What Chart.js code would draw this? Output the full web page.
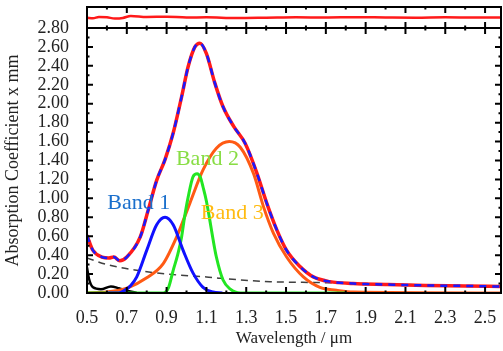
<!DOCTYPE html>
<html lang="en">

<head>
  <meta charset="UTF-8">
  <title>Absorption bands</title>
  <script src="https://cdn.jsdelivr.net/npm/chart.js"></script>
  <style>
    body { margin: 0; background: #fff; }
    .wrap { position: relative; width: 503px; height: 351px; }
    .wrap canvas { position: absolute; left: 0; top: 0; }
  </style>
</head>

<body>
  <div class="wrap">
    <canvas id="mainChart" width="503" height="351"></canvas>
    <canvas id="residChart" width="503" height="30"></canvas>
  </div>

  <script>
    // tick labels
    const xTickVals = [0.5, 0.7, 0.9, 1.1, 1.3, 1.5, 1.7, 1.9, 2.1, 2.3, 2.5];

    // total fit
    const totalX = [0.50, 0.51, 0.53, 0.575, 0.61, 0.635, 0.665, 0.70, 0.767, 0.808, 0.85, 0.892, 0.933, 0.975, 1.008, 1.042, 1.067, 1.10, 1.142, 1.183, 1.237, 1.295, 1.353, 1.403, 1.453, 1.503, 1.57, 1.637, 1.72, 1.837, 2.0, 2.2, 2.4, 2.58];
    const totalY = [0.61, 0.55, 0.45, 0.38, 0.37, 0.38, 0.34, 0.38, 0.59, 0.88, 1.19, 1.41, 1.69, 2.07, 2.39, 2.60, 2.64, 2.53, 2.22, 1.97, 1.76, 1.58, 1.27, 0.95, 0.67, 0.45, 0.28, 0.17, 0.12, 0.10, 0.09, 0.08, 0.075, 0.068];

    // Band 1
    const band1X = [0.60, 0.66, 0.683, 0.72, 0.75, 0.80, 0.85, 0.892, 0.933, 0.983, 1.033, 1.083, 1.133, 1.18];
    const band1Y = [0.0, 0.0, 0.02, 0.08, 0.17, 0.45, 0.72, 0.80, 0.72, 0.45, 0.21, 0.06, 0.01, 0.0];

    // Band 2
    const band2X = [0.50, 0.883, 0.91, 0.933, 0.955, 0.975, 0.99, 1.008, 1.033, 1.053, 1.07, 1.083, 1.10, 1.117, 1.133, 1.15, 1.183, 1.22, 1.27, 1.80];
    const band2Y = [0.0, 0.0, 0.06, 0.24, 0.40, 0.59, 0.80, 1.01, 1.23, 1.26, 1.22, 1.12, 0.97, 0.77, 0.57, 0.38, 0.14, 0.04, 0.0, 0.0];

    // Band 3
    const band3X = [0.50, 0.60, 0.70, 0.80, 0.883, 0.95, 1.017, 1.083, 1.15, 1.215, 1.27, 1.337, 1.387, 1.437, 1.503, 1.587, 1.67, 1.753, 1.837, 2.58];
    const band3Y = [0.0, 0.01, 0.05, 0.16, 0.31, 0.59, 0.95, 1.30, 1.53, 1.60, 1.54, 1.26, 0.91, 0.63, 0.38, 0.17, 0.06, 0.03, 0.01, 0.0];

    // background (dashed) and short-wave component
    const baseX = [0.50, 0.60, 0.75, 0.90, 1.10, 1.17, 1.42, 1.67, 1.90, 2.20, 2.58];
    const baseY = [0.37, 0.30, 0.24, 0.20, 0.17, 0.155, 0.12, 0.11, 0.10, 0.085, 0.07];
    const uvX = [0.50, 0.51, 0.53, 0.57, 0.62, 0.66, 0.69, 0.75];
    const uvY = [0.27, 0.15, 0.06, 0.04, 0.07, 0.05, 0.03, 0.0];

    // residual (top panel)
    const residX = [0.50, 0.53, 0.56, 0.60, 0.64, 0.68, 0.72, 0.80, 0.90, 1.00, 1.10, 1.25, 1.40, 1.55, 1.70, 1.85, 2.00, 2.15, 2.30, 2.45, 2.58];
    const residY = [-0.02, -0.08, 0.05, 0.02, -0.10, -0.05, 0.15, 0.05, 0.08, 0.0, 0.02, -0.05, -0.02, 0.02, 0.0, 0.03, 0.0, -0.02, 0.02, 0.0, 0.01];

    const bandLabels = [
      { text: 'Band 1', x: 0.76, y: 0.95, color: '#1a6fcc' },
      { text: 'Band 2', x: 1.105, y: 1.41, color: '#88dd44' },
      { text: 'Band 3', x: 1.23, y: 0.84, color: '#ffbb11' }
    ];

    const pts = (xs, ys) => xs.map((v, i) => ({ x: v, y: ys[i] }));
    const serif = '"Liberation Serif", "DejaVu Serif", serif';

    // frame with inward ticks
    function framePlugin(opts) {
      return {
        id: 'frame',
        afterDatasetsDraw(chart) {
          const { ctx, chartArea: { left, right, top, bottom }, scales: { x, y } } = chart;
          ctx.save();
          ctx.strokeStyle = '#000';
          ctx.lineWidth = 2;
          ctx.strokeRect(left, top, right - left, bottom - top);
          ctx.beginPath();
          for (let v = 0.5; v < 2.59; v += 0.1) {
            const px = x.getPixelForValue(v);
            const major = Math.round(v * 10) % 2 === 1;
            const len = major ? 6 : 2.5;
            ctx.moveTo(px, bottom); ctx.lineTo(px, bottom - len);
            ctx.moveTo(px, top); ctx.lineTo(px, top + len);
          }
          if (opts.yTicks) {
            for (let i = 0; i <= 28; i++) {
              const py = y.getPixelForValue(i / 10);
              const len = i % 2 === 0 ? 6 : 2.5;
              ctx.moveTo(left, py); ctx.lineTo(left + len, py);
              ctx.moveTo(right, py); ctx.lineTo(right - len, py);
            }
          }
          ctx.stroke();
          if (opts.labels) {
            ctx.font = '22px ' + serif;
            ctx.textAlign = 'center';
            ctx.textBaseline = 'middle';
            opts.labels.forEach(l => {
              ctx.fillStyle = l.color;
              ctx.fillText(l.text, x.getPixelForValue(l.x), y.getPixelForValue(l.y));
            });
          }
          ctx.restore();
        }
      };
    }

    const lineDefaults = { pointRadius: 0, fill: false, cubicInterpolationMode: 'monotone' };

    new Chart(document.getElementById('mainChart'), {
      type: 'line',
      data: {
        datasets: [
          { ...lineDefaults, data: pts(totalX, totalY), borderColor: '#1a1aff', borderWidth: 2.5, borderDash: [7, 6] },
          { ...lineDefaults, data: pts(totalX, totalY), borderColor: '#ff1a1a', borderWidth: 3.5 },
          { ...lineDefaults, data: pts(band1X, band1Y), borderColor: '#1010ff', borderWidth: 3 },
          { ...lineDefaults, data: pts(band2X, band2Y), borderColor: '#22e622', borderWidth: 3 },
          { ...lineDefaults, data: pts(band3X, band3Y), borderColor: '#ff5a14', borderWidth: 3 },
          { ...lineDefaults, data: pts(baseX, baseY), borderColor: '#404040', borderWidth: 1.5, borderDash: [7, 5] },
          { ...lineDefaults, data: pts(uvX, uvY), borderColor: '#000', borderWidth: 2.5 }
        ]
      },
      options: {
        responsive: false,
        animation: false,
        events: [],
        layout: { padding: { top: 28, right: 2, left: 0, bottom: 0 } },
        plugins: { legend: { display: false }, tooltip: { enabled: false } },
        scales: {
          x: {
            type: 'linear', min: 0.5, max: 2.58,
            afterBuildTicks: s => { s.ticks = xTickVals.map(v => ({ value: v })); },
            afterFit: s => { s.height = 58; },
            grid: { display: false }, border: { display: false },
            ticks: { color: '#222', padding: 6, autoSkip: false, maxRotation: 0, font: { family: serif, size: 18 }, callback: v => v.toFixed(1) },
            title: { display: true, text: 'Wavelength / μm', color: '#222', padding: { top: 0, bottom: 2 }, font: { family: serif, size: 17 } }
          },
          y: {
            min: 0, max: 2.8,
            afterFit: s => { s.width = 87; },
            grid: { display: false }, border: { display: false },
            ticks: { stepSize: 0.2, autoSkip: false, color: '#222', padding: 10, font: { family: serif, size: 18 }, callback: v => v.toFixed(2) },
            title: { display: true, text: 'Absorption Coefficient x mm', color: '#222', padding: { top: 2, bottom: 0 }, font: { family: serif, size: 18 } }
          }
        }
      },
      plugins: [framePlugin({ yTicks: true, labels: bandLabels })]
    });

    new Chart(document.getElementById('residChart'), {
      type: 'line',
      data: {
        datasets: [
          { ...lineDefaults, data: pts(residX, residY), borderColor: '#ff1a1a', borderWidth: 2.5 }
        ]
      },
      options: {
        responsive: false,
        animation: false,
        events: [],
        layout: { padding: { top: 7, right: 2, left: 87, bottom: 2 } },
        plugins: { legend: { display: false }, tooltip: { enabled: false } },
        scales: {
          x: { type: 'linear', min: 0.5, max: 2.58, display: false },
          y: { min: -1, max: 1, display: false }
        }
      },
      plugins: [framePlugin({ yTicks: false })]
    });
  </script>
</body>

</html>
